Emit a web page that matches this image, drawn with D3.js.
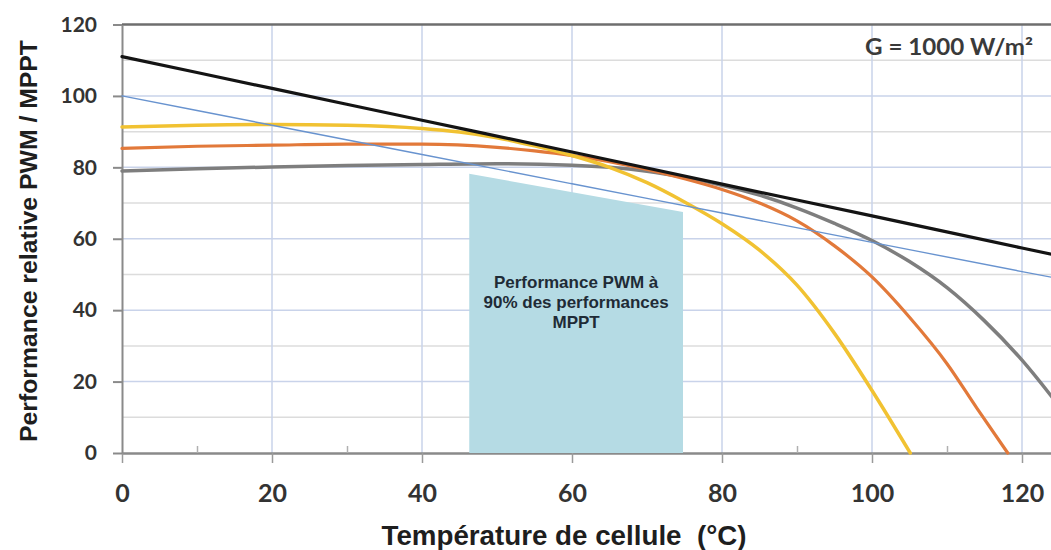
<!DOCTYPE html>
<html>
<head>
<meta charset="utf-8">
<script src="https://cdn.jsdelivr.net/npm/d3@7/dist/d3.min.js"></script>
<style>
  html, body { margin: 0; padding: 0; background: #fff; }
  svg { display: block; }
</style>
</head>
<body>
<svg id="chart" width="1051" height="550"></svg>
<script>
// Relative PWM / MPPT performance vs. cell temperature (G = 1000 W/m²)

const xTicks = [0, 20, 40, 60, 80, 100, 120];
const xMinorTicks = [10, 30, 50, 70, 90, 110];
const yTicks = [0, 20, 40, 60, 80, 100, 120];
const yMinorTicks = [10, 30, 50, 70, 90, 110];

// MPPT reference (black) and its 90 % line (thin blue)
const refTemps = [0, 20, 40, 60, 80, 100, 120, 125];
const mpptValues = [111, 102.1, 93.2, 84.3, 75.3, 66.4, 57.4, 55.2];
const mppt90Values = [100, 91.8, 83.6, 75.4, 67.2, 59.0, 50.8, 48.8];

// PWM curves
const yellowTemps = [0, 10, 20, 30, 40, 45, 50, 55, 60, 65, 70, 75, 80, 85, 90, 95, 100, 105.1];
const yellowValues = [91.3, 91.8, 92.0, 91.8, 90.9, 89.9, 88.3, 86.0, 83.3, 80.0, 75.7, 70.3, 64.2, 56.8, 47.0, 33.5, 17.5, 0];

const orangeTemps = [0, 10, 20, 30, 40, 50, 55, 60, 65, 70, 75, 80, 85, 90, 95, 100, 105, 110, 114, 118.1];
const orangeValues = [85.3, 85.9, 86.2, 86.5, 86.5, 85.6, 84.6, 83.3, 81.6, 79.4, 76.8, 73.8, 70.0, 65.0, 58.0, 49.3, 38.0, 25.0, 12.5, 0];

const grayTemps = [0, 10, 20, 30, 40, 50, 60, 65, 70, 75, 80, 85, 90, 95, 100, 105, 110, 115, 120, 125];
const grayValues = [79.0, 79.6, 80.1, 80.5, 80.8, 81.0, 80.6, 80.0, 78.9, 77.2, 75.0, 72.2, 68.6, 64.3, 59.5, 53.6, 46.3, 37.0, 26.0, 13.0];

// Shaded zone where PWM reaches 90 % of MPPT
const zoneTemps = [46.3, 46.3, 74.8, 74.8];
const zoneValues = [0, 78.2, 67.5, 0];
const zoneLines = ["Performance PWM à", "90% des performances", "MPPT"];

const svg = d3.select("#chart");
const W = 1051, H = 550;

const x = d3.scaleLinear().domain([0, 125]).range([122, 1059.5]);
const y = d3.scaleLinear().domain([0, 120]).range([453, 24.5]);

svg.append("rect").attr("width", W).attr("height", H).attr("fill", "#fff");

// grid
const grid = svg.append("g");
grid.selectAll(".hmin").data(yMinorTicks).join("line")
  .attr("x1", x(0)).attr("x2", W)
  .attr("y1", d => y(d)).attr("y2", d => y(d))
  .attr("stroke", "#dcdcdc").attr("stroke-width", 1.5);
grid.selectAll(".hmaj").data(yTicks.filter(d => d > 0 && d < 120)).join("line")
  .attr("x1", x(0)).attr("x2", W)
  .attr("y1", d => y(d)).attr("y2", d => y(d))
  .attr("stroke", "#c9d3ea").attr("stroke-width", 1.5);
grid.selectAll(".vmaj").data(xTicks.filter(d => d > 0)).join("line")
  .attr("x1", d => x(d)).attr("x2", d => x(d))
  .attr("y1", y(120)).attr("y2", y(0))
  .attr("stroke", "#c9d3ea").attr("stroke-width", 1.5);

// top border
svg.append("line")
  .attr("x1", x(0)).attr("x2", W)
  .attr("y1", y(120)).attr("y2", y(120))
  .attr("stroke", "#6e6e6e").attr("stroke-width", 2.5);

// x axis: major ticks below, minor ticks above
const xAxis = svg.append("g").attr("transform", `translate(0,${y(0)})`)
  .call(d3.axisBottom(x).tickValues(xTicks).tickSize(10).tickSizeOuter(0).tickPadding(0).tickFormat(d3.format("d")));
xAxis.select(".domain").attr("stroke", "#8a8a8a").attr("stroke-width", 2.5);
xAxis.selectAll(".tick line").attr("stroke", "#9a9a9a").attr("stroke-width", 1.5);
xAxis.selectAll(".tick text")
  .attr("y", 49).attr("dy", null)
  .attr("fill", "#333")
  .style("font-family", "Lato, sans-serif").style("font-weight", 700).style("font-size", "25px");

const xMinor = svg.append("g").attr("transform", `translate(0,${y(0)})`)
  .call(d3.axisBottom(x).tickValues(xMinorTicks).tickSize(-7).tickSizeOuter(0).tickFormat(""));
xMinor.select(".domain").remove();
xMinor.selectAll(".tick line").attr("stroke", "#b0b0b0").attr("stroke-width", 1.5);

// y axis
const yAxis = svg.append("g").attr("transform", `translate(${x(0)},0)`)
  .call(d3.axisLeft(y).tickValues(yTicks).tickSize(9).tickSizeOuter(0).tickPadding(16).tickFormat(d3.format("d")));
yAxis.select(".domain").attr("stroke", "#8a8a8a").attr("stroke-width", 2);
yAxis.selectAll(".tick line").attr("stroke", "#8a8a8a").attr("stroke-width", 2);
yAxis.selectAll(".tick text")
  .attr("fill", "#333")
  .style("font-family", "Lato, sans-serif").style("font-weight", 700).style("font-size", "21px");

// shaded zone
const zonePts = zoneTemps.map((t, i) => [x(t), y(zoneValues[i])]);
svg.append("path")
  .attr("d", d3.line()(zonePts) + "Z")
  .attr("fill", "#b5dbe4");

const zoneCx = x((zoneTemps[0] + zoneTemps[2]) / 2);
svg.append("text")
  .attr("text-anchor", "middle")
  .attr("fill", "#1f2b36")
  .style("font-family", "'Liberation Sans', Arial, sans-serif")
  .style("font-weight", 700).style("font-size", "17px")
  .selectAll("tspan").data(zoneLines).join("tspan")
  .attr("x", zoneCx)
  .attr("y", (d, i) => 288 + i * 20)
  .text(d => d);

// curves
const line = d3.line().curve(d3.curveMonotoneX);
const series = [
  { t: grayTemps, v: grayValues, color: "#7e7e7e", w: 3.5 },
  { t: orangeTemps, v: orangeValues, color: "#e2793a", w: 3.2 },
  { t: yellowTemps, v: yellowValues, color: "#f1c232", w: 3.5 },
  { t: refTemps, v: mpptValues, color: "#141414", w: 3.2 },
  { t: refTemps, v: mppt90Values, color: "#6893cf", w: 1.4 }
];
svg.append("g").selectAll("path").data(series).join("path")
  .attr("d", s => line(s.t.map((t, i) => [x(t), y(s.v[i])])))
  .attr("fill", "none")
  .attr("stroke", s => s.color)
  .attr("stroke-width", s => s.w)
  .attr("stroke-linejoin", "round")
  .attr("stroke-linecap", "round");

// irradiance label
svg.append("text")
  .attr("x", 865).attr("y", 55)
  .attr("textLength", 168).attr("lengthAdjust", "spacingAndGlyphs")
  .attr("fill", "#3a3a3a")
  .style("font-family", "Lato, sans-serif").style("font-weight", 700).style("font-size", "22px")
  .text("G = 1000 W/m²");

// axis titles
svg.append("text")
  .attr("transform", "translate(37,241) rotate(-90)")
  .attr("text-anchor", "middle")
  .attr("textLength", 402).attr("lengthAdjust", "spacingAndGlyphs")
  .attr("fill", "#1e1e1e")
  .style("font-family", "'Liberation Sans', Arial, sans-serif")
  .style("font-weight", 700).style("font-size", "24px")
  .text("Performance relative PWM / MPPT");

svg.append("text")
  .attr("x", 564).attr("y", 545)
  .attr("text-anchor", "middle")
  .attr("textLength", 365).attr("lengthAdjust", "spacingAndGlyphs")
  .attr("fill", "#1e1e1e")
  .style("white-space", "pre")
  .style("font-family", "'Liberation Sans', Arial, sans-serif")
  .style("font-weight", 700).style("font-size", "27px")
  .text("Température de cellule  (°C)");
</script>
</body>
</html>
